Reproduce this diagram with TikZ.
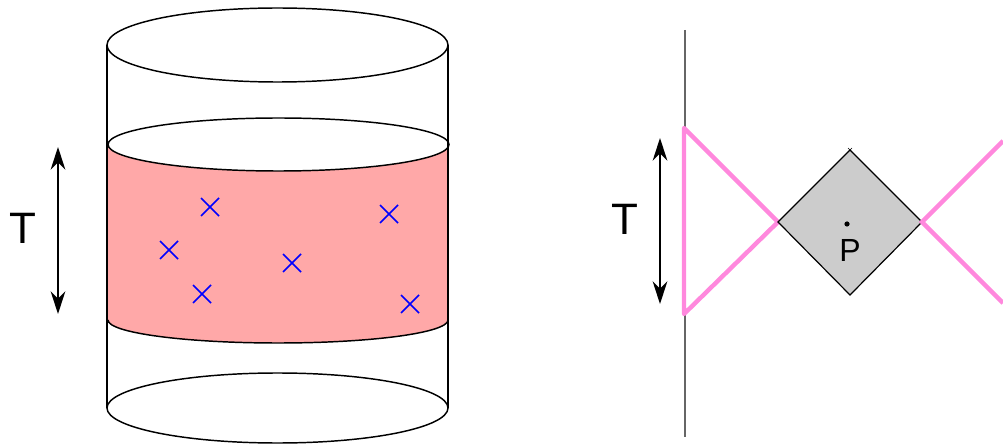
\documentclass[tikz,border=0pt]{standalone}
\usepackage{fontspec}
\setmainfont{Liberation Sans}
\usetikzlibrary{arrows.meta}
\definecolor{bandpink}{HTML}{FFA8A8}
\definecolor{linepink}{HTML}{FF88DD}
\definecolor{dgray}{HTML}{CCCCCC}
\tikzset{
  cyl/.style={draw=black, line width=1.1pt},
  xmark/.style={draw=blue, line width=1.2pt},
  tarrow/.style={line width=1.3pt, {Stealth[length=17pt,width=11pt]}-{Stealth[length=17pt,width=11pt]}},
  pinkline/.style={draw=linepink, line width=3.3pt},
  lbl/.style={font=\fontsize{33}{38}\selectfont, inner sep=0pt, anchor=center},
}
\newcommand{\xmk}[2]{\draw[xmark] (#1-9,#2-9) -- (#1+9,#2+9) (#1-9,#2+9) -- (#1+9,#2-9);}
\begin{document}
\begin{tikzpicture}[x=0.75pt,y=-0.75pt]
\useasboundingbox (0,0) rectangle (1003,445);
% cylinder
\fill[bandpink] (108,144) -- (108,320) arc[start angle=180,end angle=0,x radius=170,y radius=23] -- (448,144) -- cycle;
\draw[cyl] (108,320) arc[start angle=180,end angle=0,x radius=170,y radius=23];
\draw[cyl, fill=white] (278.5,144.5) ellipse [x radius=170.5, y radius=26.5];
\draw[cyl] (107,45) -- (107,408);
\draw[cyl] (448,45) -- (448,408);
\draw[cyl, fill=white] (277.5,45) ellipse [x radius=170.5, y radius=37];
\draw[cyl] (277.5,408) ellipse [x radius=170.5, y radius=35];
% crosses
\xmk{210}{207}
\xmk{389}{214}
\xmk{169}{250}
\xmk{292}{263}
\xmk{202}{294}
\xmk{410}{304}
% left T arrow
\coordinate (la1) at (58,147);
\coordinate (la2) at (58,314);
\draw[tarrow] (la1) -- (la2);
\node[lbl] (lt) at (23,228.5) {T};
% right diagram
\coordinate (g1) at (685,30);
\coordinate (g2) at (685,437);
\draw[gray!80!black, line width=0.9pt] (g1) -- (g2);
\coordinate (pt) at (684,128);
\coordinate (pb) at (684,314);
\coordinate (pa) at (778,222);
\draw[pinkline, line join=round] (pa) -- (pt) -- (pb) -- cycle;
\coordinate (dl) at (778,222);
\coordinate (dt) at (850,150);
\coordinate (dr) at (922,222);
\coordinate (db) at (850,295);
\draw[fill=dgray, draw=black, line width=0.9pt] (dl) -- (dt) -- (dr) -- (db) -- cycle;
\draw[line width=0.5pt] (848,148) -- (852,152) (848,152) -- (852,148);
\coordinate (r1) at (1003,141);
\coordinate (r2) at (1003,303);
\draw[pinkline] (r1) -- (dr) -- (r2);
\fill (847,224) circle (2.6);
\node[font=\fontsize{24}{28}\selectfont, inner sep=0pt] (p) at (850,250) {P};
\coordinate (ra1) at (660,138);
\coordinate (ra2) at (660,304);
\draw[tarrow] (ra1) -- (ra2);
\node[lbl] (rt) at (624.5,219) {T};
\end{tikzpicture}
\end{document}
